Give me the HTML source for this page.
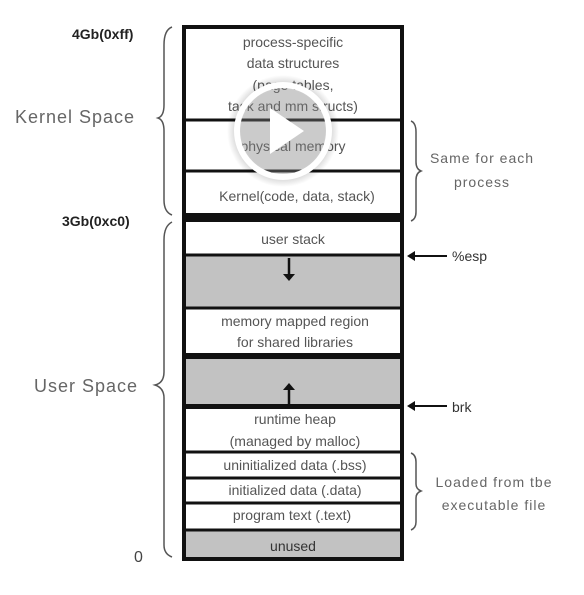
<!DOCTYPE html>
<html><head><meta charset="utf-8"><style>
html,body{margin:0;padding:0;background:#fff;}
svg{display:block;}
text{font-family:"Liberation Sans",sans-serif;}
.t{font-size:14px;fill:#555;text-anchor:middle;}
.l{font-size:18px;fill:#666;letter-spacing:1px;}
.b{font-size:14px;fill:#222;font-weight:bold;}
.r{font-size:14px;fill:#666;letter-spacing:1px;text-anchor:middle;}
</style></head><body>
<svg width="584" height="595" viewBox="0 0 584 595" xmlns="http://www.w3.org/2000/svg">
<defs>
<radialGradient id="sh" cx="0.5" cy="0.5" r="0.5">
<stop offset="0.75" stop-color="#000" stop-opacity="0.25"/>
<stop offset="1" stop-color="#000" stop-opacity="0"/>
</radialGradient>
</defs>
<rect x="0" y="0" width="584" height="595" fill="#fff"/>
<rect x="184" y="255" width="218" height="53" fill="#c2c2c2"/>
<rect x="184" y="357" width="218" height="48" fill="#c2c2c2"/>
<rect x="184" y="531" width="218" height="28" fill="#c2c2c2"/>
<rect x="184" y="27" width="218" height="532" fill="none" stroke="#111" stroke-width="4"/>
<g stroke="#111" stroke-width="3">
<line x1="184" y1="120" x2="402" y2="120"/>
<line x1="184" y1="171" x2="402" y2="171"/>
<line x1="184" y1="255" x2="402" y2="255"/>
<line x1="184" y1="308" x2="402" y2="308"/>
<line x1="184" y1="452" x2="402" y2="452"/>
<line x1="184" y1="478" x2="402" y2="478"/>
<line x1="184" y1="503" x2="402" y2="503"/>
<line x1="184" y1="530" x2="402" y2="530"/>
</g>
<rect x="184" y="213" width="218" height="9" fill="#111"/>
<rect x="184" y="353" width="218" height="6" fill="#111"/>
<rect x="184" y="404" width="218" height="5" fill="#111"/>
<line x1="289" y1="258" x2="289" y2="276" stroke="#111" stroke-width="2.5"/>
<polygon points="283,274 295,274 289,281" fill="#111"/>
<line x1="289" y1="404" x2="289" y2="388" stroke="#111" stroke-width="2.5"/>
<polygon points="283,390 295,390 289,383" fill="#111"/>
<text class="t" x="293" y="47">process-specific</text>
<text class="t" x="293" y="68">data structures</text>
<text class="t" x="293" y="90">(page tables,</text>
<text class="t" x="293" y="111">task and mm structs)</text>
<text class="t" x="293" y="151">physical memory</text>
<text class="t" x="297" y="201">Kernel(code, data, stack)</text>
<text class="t" x="293" y="244">user stack</text>
<text class="t" x="295" y="326">memory mapped region</text>
<text class="t" x="295" y="347">for shared libraries</text>
<text class="t" x="295" y="424">runtime heap</text>
<text class="t" x="295" y="446">(managed by malloc)</text>
<text class="t" x="295" y="470">uninitialized data (.bss)</text>
<text class="t" x="295" y="495">initialized data (.data)</text>
<text class="t" x="292" y="520">program text (.text)</text>
<text class="t" x="293" y="551" style="fill:#333">unused</text>
<text class="b" x="72" y="39">4Gb(0xff)</text>
<text class="b" x="62" y="226">3Gb(0xc0)</text>
<text class="l" x="15" y="123">Kernel Space</text>
<text class="l" x="34" y="392">User Space</text>
<text x="134" y="562" style="font-size:16px;fill:#444">0</text>
<g fill="none" stroke="#555" stroke-width="1.5">
<path d="M172,27 Q164,30 164,45 L164,105 Q164,116 158,118 Q164,120 164,131 L164,200 Q164,212 172,215"/>
<path d="M172,222 Q164,226 164,240 L164,372 Q164,383 155,385 Q164,388 164,398 L164,545 Q164,554 172,557"/>
<path d="M411,121 Q416,123 416,132 L416,162 Q416,169 421,171 Q416,173 416,180 L416,212 Q416,219 411,221"/>
<path d="M411,453 Q416,455 416,462 L416,484 Q416,489 421,491 Q416,493 416,498 L416,522 Q416,528 411,530"/>
</g>
<text class="r" x="482" y="163">Same for each</text>
<text class="r" x="482" y="187">process</text>
<text class="r" x="494" y="487">Loaded from tbe</text>
<text class="r" x="494" y="510">executable file</text>
<line x1="447" y1="256" x2="412" y2="256" stroke="#111" stroke-width="2"/>
<polygon points="407,256 415,251 415,261" fill="#111"/>
<text x="452" y="261" style="font-size:14px;fill:#333">%esp</text>
<line x1="447" y1="406" x2="412" y2="406" stroke="#111" stroke-width="2"/>
<polygon points="407,406 415,401 415,411" fill="#111"/>
<text x="452" y="412" style="font-size:14px;fill:#333">brk</text>
<circle cx="283" cy="131" r="56" fill="url(#sh)"/>
<circle cx="283" cy="131" r="46" fill="rgba(255,255,255,0.2)" stroke="#fff" stroke-width="6"/>
<polygon points="270,108 270,154 304,131" fill="#fff"/>
</svg>
</body></html>
